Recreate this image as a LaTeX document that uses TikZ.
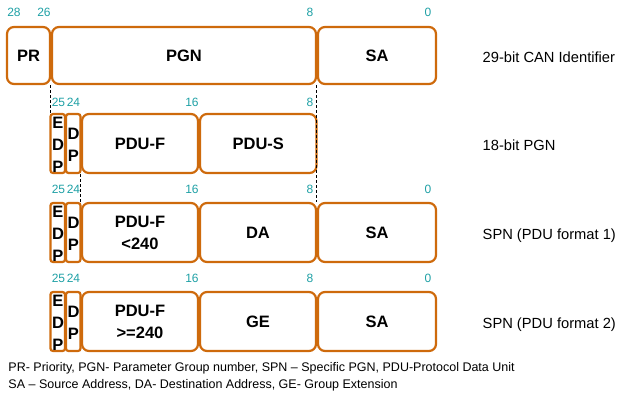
\documentclass[tikz,border=0pt]{standalone}
\usepackage{fontspec}
\setmainfont{Liberation Sans}
\definecolor{boxorange}{RGB}{206,106,12}
\definecolor{bitteal}{RGB}{30,160,165}
\tikzset{
  fbox/.style={draw=boxorange, line width=2.2pt, rounded corners=7pt, fill=white, inner sep=0pt,
    font=\fontsize{16.5}{22}\selectfont\bfseries, align=center},
  slim/.style={fbox, rounded corners=2.5pt, minimum width=14.5pt, minimum height=59pt},
  bitnum/.style={text=bitteal, font=\fontsize{12}{14}\selectfont, inner sep=0pt},
  rowlabel/.style={anchor=base west, font=\fontsize{14.7}{17}\selectfont, inner sep=0pt},
  dl/.style={draw=black, line width=0.9pt, dash pattern=on 3pt off 2pt},
  stack/.style={font=\fontsize{16.5}{22}\selectfont\bfseries, align=center, inner sep=0pt}
}
\begin{document}
\begin{tikzpicture}[x=1pt,y=-1pt]
\useasboundingbox (0,0) rectangle (619,413);
% Row 1
\node[fbox, minimum width=43pt, minimum height=57pt] (pr) at (28.5,55.5) {PR};
\node[fbox, minimum width=264pt, minimum height=57pt] (pgn) at (184,55.5) {PGN};
\node[fbox, minimum width=118pt, minimum height=57pt] (sa1) at (377,55.5) {SA};
\node[bitnum] (b1a) at (14,12) {28};
\node[bitnum] (b1b) at (44,12) {26};
\node[bitnum] (b1c) at (310,12) {8};
\node[bitnum] (b1d) at (428,12) {0};
\node[rowlabel] (l1) at (482.5,62.5) {29-bit CAN Identifier};
% Row 2
\node[slim] (edp2) at (57.75,143.5) {};
\node[stack] (edp2t) at (58,145) {E\\D\\P};
\node[slim] (dp2) at (73.25,143.5) {};
\node[stack] (dp2t) at (73.5,145) {D\\P};
\node[fbox, minimum width=116pt, minimum height=59pt] (pduf2) at (140,143.5) {PDU-F};
\node[fbox, minimum width=116.5pt, minimum height=59pt] (pdus2) at (258.25,143.5) {PDU-S};
\node[bitnum] (b2a) at (58.5,102) {25};
\node[bitnum] (b2b) at (73.5,102) {24};
\node[bitnum] (b2c) at (192,102) {16};
\node[bitnum] (b2d) at (310,102) {8};
\node[rowlabel] (l2) at (482.5,150) {18-bit PGN};
% Row 3
\node[slim] (edp3) at (57.75,232.5) {};
\node[stack] (edp3t) at (58,234) {E\\D\\P};
\node[slim] (dp3) at (73.25,232.5) {};
\node[stack] (dp3t) at (73.5,234) {D\\P};
\node[fbox, minimum width=116pt, minimum height=59pt] (pduf3) at (140,232.5) {PDU-F\\{<}240};
\node[fbox, minimum width=116pt, minimum height=59pt] (da3) at (258,232.5) {DA};
\node[fbox, minimum width=118pt, minimum height=59pt] (sa3) at (377,232.5) {SA};
\node[bitnum] (b3a) at (58.5,189) {25};
\node[bitnum] (b3b) at (73.5,189) {24};
\node[bitnum] (b3c) at (192,189) {16};
\node[bitnum] (b3d) at (310,189) {8};
\node[bitnum] (b3e) at (428,189) {0};
\node[rowlabel] (l3) at (482.5,239.5) {SPN (PDU format 1)};
% Row 4
\node[slim] (edp4) at (57.75,321.5) {};
\node[stack] (edp4t) at (58,323) {E\\D\\P};
\node[slim] (dp4) at (73.25,321.5) {};
\node[stack] (dp4t) at (73.5,323) {D\\P};
\node[fbox, minimum width=116pt, minimum height=59pt] (pduf4) at (140,321.5) {PDU-F\\{>}=240};
\node[fbox, minimum width=116pt, minimum height=59pt] (ge4) at (258,321.5) {GE};
\node[fbox, minimum width=118pt, minimum height=59pt] (sa4) at (377,321.5) {SA};
\node[bitnum] (b4a) at (58.5,278) {25};
\node[bitnum] (b4b) at (73.5,278) {24};
\node[bitnum] (b4c) at (192,278) {16};
\node[bitnum] (b4d) at (310,278) {8};
\node[bitnum] (b4e) at (428,278) {0};
\node[rowlabel] (l4) at (482.5,328.5) {SPN (PDU format 2)};
% dashed guides
\draw[dl] (pgn.south west) -- (pgn.south west |- edp2.north);
\draw[dl] (sa1.south west) -- (sa1.south west |- sa3.north);
\draw[dl] (pduf2.south west) -- (pduf2.south west |- pduf3.north);
% legend
\node[anchor=base west, align=left, inner sep=0pt, font=\fontsize{12.5}{17}\selectfont] (legend) at (8.3,388)
  {PR- Priority, PGN- Parameter Group number, SPN -- Specific PGN, PDU-Protocol Data Unit\\
   SA -- Source Address, DA- Destination Address, GE- Group Extension};
\end{tikzpicture}
\end{document}
